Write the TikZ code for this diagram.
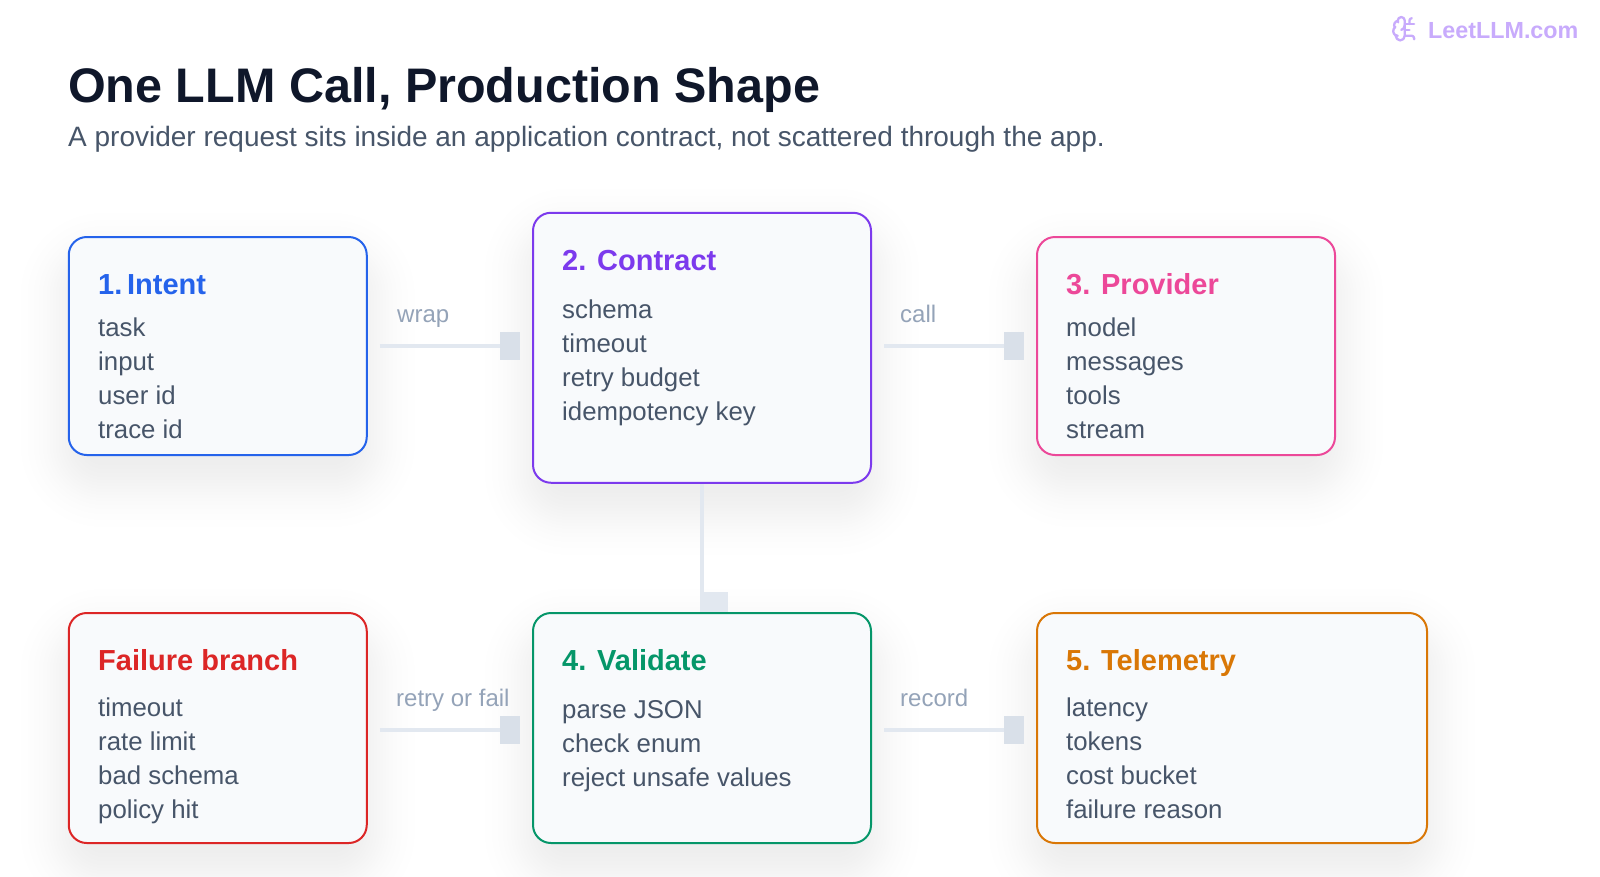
\documentclass[tikz,border=0pt]{standalone}
\usepackage{fontspec}
\setmainfont{Liberation Sans}
\usetikzlibrary{backgrounds}
\definecolor{ink}{HTML}{0F172A}
\definecolor{slate}{HTML}{475569}
\definecolor{faint}{HTML}{94A3B8}
\definecolor{panel}{HTML}{F8FAFC}
\definecolor{wire}{HTML}{E2E8F0}
\definecolor{stub}{HTML}{D9E0E9}
\definecolor{logo}{HTML}{C8ABFC}
\definecolor{intent}{HTML}{2563EB}
\definecolor{contract}{HTML}{7C3AED}
\definecolor{provider}{HTML}{EC4899}
\definecolor{failure}{HTML}{DC2626}
\definecolor{validate}{HTML}{059669}
\definecolor{telemetry}{HTML}{D97706}
\tikzstyle{card}=[rectangle, draw, fill=panel, line width=2pt, rounded corners=18pt, outer sep=0pt]
\tikzstyle{stubbox}=[rectangle, fill=stub, inner sep=0pt, minimum width=20pt, minimum height=28pt, outer sep=0pt]
\tikzstyle{link}=[draw=wire, line width=4pt, shorten <=13pt]
\tikzstyle{head}=[anchor=base west, inner sep=0pt, font=\fontsize{29}{34}\selectfont\bfseries]
\tikzstyle{body}=[anchor=north west, inner sep=0pt, align=left, text=slate, font=\fontsize{25.8}{34}\selectfont]
\tikzstyle{tag}=[anchor=base west, inner sep=0pt, text=faint, font=\fontsize{24}{28}\selectfont]

\begin{document}
\begin{tikzpicture}[x=1pt, y=-1pt]
		   \path [use as bounding box] (0, 0) rectangle (1600, 876);
		   \begin{scope}
			   \node (title) at (68, 102)[anchor=base west, inner sep=0pt, text=ink, font=\fontsize{48.5}{50}\selectfont\bfseries] {One LLM Call, Production Shape};
			   \node (sub) at (68, 146)[anchor=base west, inner sep=0pt, text=slate, font=\fontsize{28}{30}\selectfont] {A provider request sits inside an application contract, not scattered through the app.};
			   \node (site) at (1428, 38)[anchor=base west, inner sep=0pt, text=logo, font=\fontsize{23.3}{26}\selectfont\bfseries] {LeetLLM.com};
		   \end{scope}
		   \begin{scope}
			   \node (0) at (217.75, 346)[card, draw=intent, minimum width=298pt, minimum height=218pt] {};
			   \node (1) at (702, 347.75)[card, draw=contract, minimum width=338pt, minimum height=270pt] {};
			   \node (2) at (1186, 346)[card, draw=provider, minimum width=298pt, minimum height=218pt] {};
			   \node (3) at (217.75, 728)[card, draw=failure, minimum width=298pt, minimum height=230pt] {};
			   \node (4) at (702, 728)[card, draw=validate, minimum width=338pt, minimum height=230pt] {};
			   \node (5) at (1232, 728)[card, draw=telemetry, minimum width=390pt, minimum height=230pt] {};

			   \node (6) at (510, 346)[stubbox] {};
			   \node (7) at (1014, 346)[stubbox] {};
			   \node (8) at (510, 729.5)[stubbox] {};
			   \node (9) at (1014, 729.5)[stubbox] {};
			   \node (10) at (714, 602)[stubbox, fill=wire, minimum width=28pt, minimum height=20pt] {};
		   \end{scope}
		   \begin{scope}
			   \path [link] (6 -| 0.east) edge (6);
			   \path [link] (7 -| 1.east) edge (7);
			   \path [link] (8 -| 3.east) edge (8);
			   \path [link] (9 -| 4.east) edge (9);
			   \path [draw=wire, line width=4pt, shorten <=1pt, shorten >=1pt] (1) edge (4);
		   \end{scope}
		   \begin{scope}
			   \node (wrap) at (397, 322)[tag] {wrap};
			   \node (call) at (900, 322)[tag] {call};
			   \node (retry) at (396, 706.5)[tag] {retry or fail};
			   \node (record) at (900, 706.5)[tag] {record};
		   \end{scope}
		   \begin{scope}
			   \node (h0) at (98, 294)[head, text=intent] {1.\kern-6pt{} Intent};
			   \node (b0) at (98, 318)[body] {task\\input\\user id\\trace id};
			   \node (h1) at (562, 270.5)[head, text=contract] {2. Contract};
			   \node (b1) at (562, 300)[body] {schema\\timeout\\retry budget\\idempotency key};
			   \node (h2) at (1066, 294)[head, text=provider] {3. Provider};
			   \node (b2) at (1066, 318)[body] {model\\messages\\tools\\stream};
			   \node (h3) at (98, 670)[head, text=failure] {Failure branch};
			   \node (b3) at (98, 698)[body] {timeout\\rate limit\\bad schema\\policy hit};
			   \node (h4) at (562, 670)[head, text=validate] {4. Validate};
			   \node (b4) at (562, 700)[body] {parse JSON\\check enum\\reject unsafe values};
			   \node (h5) at (1066, 670)[head, text=telemetry] {5. Telemetry};
			   \node (b5) at (1066, 698)[body] {latency\\tokens\\cost bucket\\failure reason};
		   \end{scope}
		   \begin{scope}[shift={(1390.7, 14.7)}, scale=1.17, draw=logo, line width=2.3pt, line cap=round, line join=round]
			   \draw (12, 5) .. controls (12, 3.3) and (10.7, 2) .. (9, 2) .. controls (7.3, 2) and (6, 3.4) .. (6, 5.125) .. controls (3.5, 5.8) and (2, 8.6) .. (3.48, 10.9) .. controls (1.6, 12.6) and (1.7, 16) .. (4.03, 17.48) .. controls (4.3, 20) and (6, 22) .. (8, 22) .. controls (10.2, 22) and (12, 20.2) .. (12, 18) -- cycle;
			   \draw (9, 13) .. controls (10.8, 12.6) and (12, 10.9) .. (12, 9);
			   \draw (6, 5.125) -- (6.4, 6.5);
			   \draw (3.48, 10.9) -- (4.06, 10.5);
			   \draw (6, 18) -- (4.03, 17.48);
			   \draw (12, 13) -- (16, 13);
			   \draw (12, 18) -- (18, 18) .. controls (19.1, 18) and (20, 18.9) .. (20, 20) -- (20, 21);
			   \draw (12, 8) -- (20, 8);
			   \draw (16, 8) -- (16, 5) .. controls (16, 3.9) and (16.9, 3) .. (18, 3);
		   \end{scope}
		   \begin{pgfonlayer}{background}
			   \fill [white] (0, 0) rectangle (1600, 876);
			   \foreach \n in {0, 1, 2, 3, 4, 5} {
				   \foreach \s in {48, 41, 35, 30, 26, 22, 19, 16, 13, 10, 7, 4, 1, -2, -6, -10, -14} {
					   \pgfmathsetmacro{\r}{34 + \s}
					   \fill [ink, opacity=0.0055, rounded corners=\r pt] ([shift={(-\s, -\s + 24)}]\n.north west) rectangle ([shift={(\s, \s + 24)}]\n.south east);
				   }
			   }
		   \end{pgfonlayer}
	   \end{tikzpicture}
\end{document}
